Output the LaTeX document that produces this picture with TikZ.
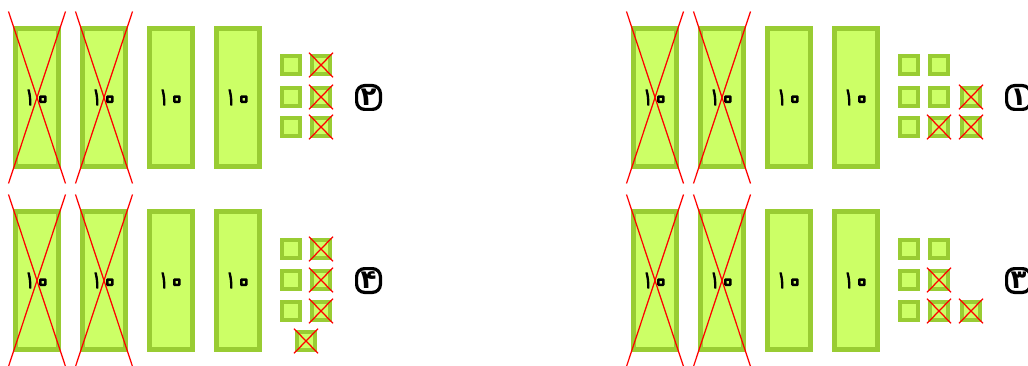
\documentclass[tikz,border=0pt]{standalone}
\usepackage{fontspec}
\newfontfamily\numfont[Script=Arabic]{DejaVu Sans}
\newfontfamily\narrowfont[Script=Arabic,FakeStretch=0.6]{DejaVu Sans}
\definecolor{blockfill}{HTML}{CCFF66}
\definecolor{blockedge}{HTML}{99CC33}
\tikzset{
  tenbox/.style={draw=blockedge,fill=blockfill,line width=5pt,minimum width=43pt,minimum height=138pt,inner sep=0pt,font=\narrowfont\fontsize{24}{24}\selectfont,text=black},
  unitbox/.style={draw=blockedge,fill=blockfill,line width=4pt,minimum width=18pt,minimum height=18pt,inner sep=0pt},
  strike/.style={draw=red,line width=1.25pt},
  tag/.style={draw=black,line width=3.2pt,rounded corners=8pt,minimum width=23.8pt,minimum height=23.8pt,inner sep=0pt,font=\numfont\bfseries\fontsize{26}{26}\selectfont,text=black}
}
\newcommand{\ringzero}{\smash{\raisebox{-2.5pt}{\numfont\bfseries\fontsize{30}{30}\selectfont\special{pdf:code 1 Tr 2.5 w 0 G 1 j}۰\special{pdf:code 0 Tr}}}}
\newcommand{\strokeone}{\special{pdf:code 2 Tr 1 w 0 G 0 g 1 j}۱\special{pdf:code 0 Tr}}
\newcommand{\tens}[3]{\node[tenbox] (#1) at (#2,#3) {\hspace*{4pt}\strokeone\ringzero};}
\newcommand{\tensx}[3]{\tens{#1}{#2}{#3}
  \draw[strike] ($(#1.center)+(-28.5,-86)$) -- ($(#1.center)+(28.5,86)$);
  \draw[strike] ($(#1.center)+(28.5,-86)$) -- ($(#1.center)+(-28.5,86)$);}
\newcommand{\unit}[3]{\node[unitbox] (#1) at (#2,#3) {};}
\newcommand{\unitx}[3]{\unit{#1}{#2}{#3}
  \draw[strike] ($(#1.center)+(-12,-12.3)$) -- ($(#1.center)+(12,12.3)$);
  \draw[strike] ($(#1.center)+(12,-12.3)$) -- ($(#1.center)+(-12,12.3)$);}
\usetikzlibrary{calc}
\begin{document}
\begin{tikzpicture}[x=1pt,y=-1pt]
\useasboundingbox (0,0) rectangle (1028,366);
\clip (0,0) rectangle (1028,366);
% top left
\tensx{a1}{37}{97.5}\tensx{a2}{104}{97.5}\tens{a3}{171}{97.5}\tens{a4}{238}{97.5}
\unit{au1}{291}{65}\unit{au2}{291}{97}\unit{au3}{291}{127}
\unitx{au4}{321}{65}\unitx{au5}{321}{97}\unitx{au6}{321}{127}
\node[tag] (ta) at (368.5,97.5) {۲};
% top right
\tensx{b1}{655}{97.5}\tensx{b2}{722}{97.5}\tens{b3}{789}{97.5}\tens{b4}{856}{97.5}
\unit{bu1}{909}{65}\unit{bu2}{909}{97}\unit{bu3}{909}{127}
\unit{bu4}{939}{65}\unit{bu5}{939}{97}\unitx{bu6}{939}{127}
\unitx{bu7}{971}{97}\unitx{bu8}{971}{127}
\node[tag] (tb) at (1018.5,97.5) {۱};
% bottom left
\tensx{c1}{37}{280.5}\tensx{c2}{104}{280.5}\tens{c3}{171}{280.5}\tens{c4}{238}{280.5}
\unit{cu1}{291}{249}\unit{cu2}{291}{280}\unit{cu3}{291}{311}
\unitx{cu4}{321}{249}\unitx{cu5}{321}{280}\unitx{cu6}{321}{311}
\unitx{cu7}{306}{341}
\node[tag] (tc) at (368.5,280.5) {۴};
% bottom right
\tensx{d1}{655}{280.5}\tensx{d2}{722}{280.5}\tens{d3}{789}{280.5}\tens{d4}{856}{280.5}
\unit{du1}{909}{249}\unit{du2}{909}{280}\unit{du3}{909}{311}
\unit{du4}{939}{249}\unitx{du5}{939}{280}\unitx{du6}{939}{311}
\unitx{du7}{971}{311}
\node[tag] (td) at (1018.5,280.5) {۳};
\end{tikzpicture}
\end{document}
